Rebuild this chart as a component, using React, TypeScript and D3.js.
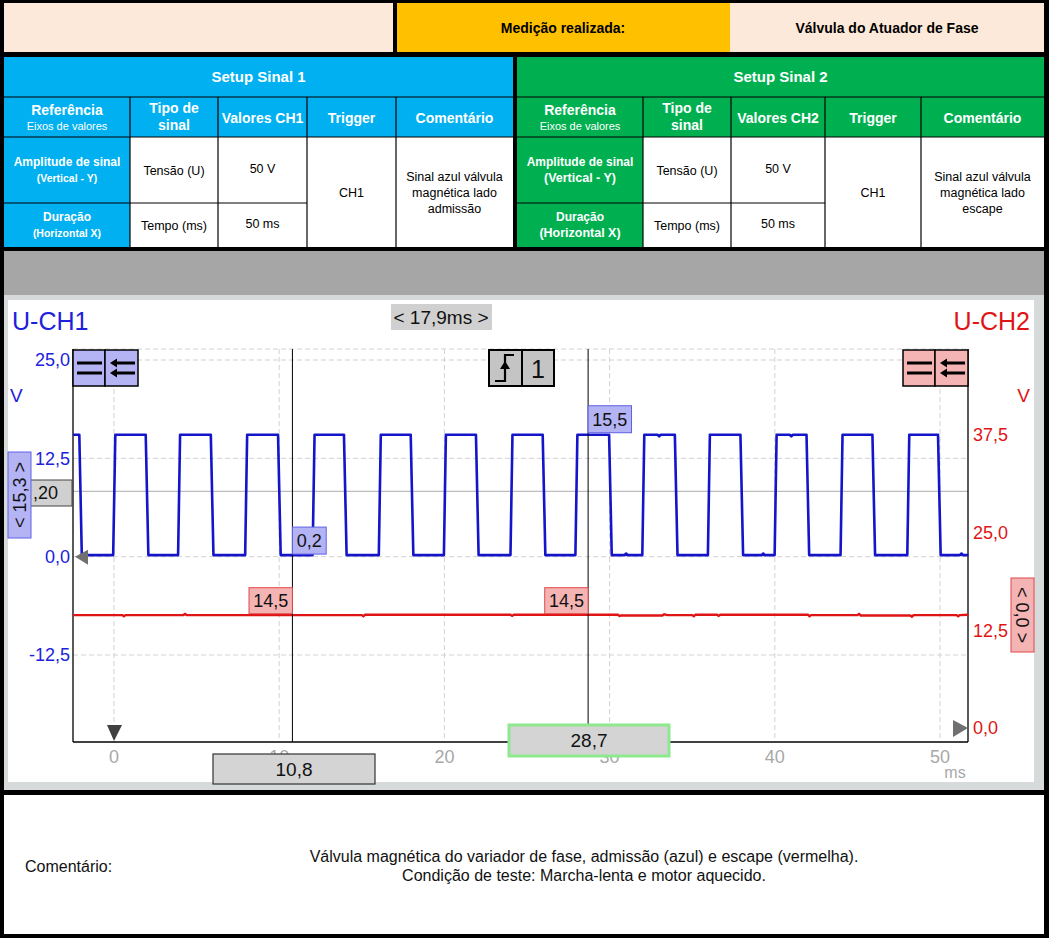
import React from 'react';
import * as d3 from 'd3';

const W = 1049;
const H = 938;
const FONT = "'Liberation Sans', Arial, Helvetica, sans-serif";

// top header
const measureLabel = 'Medição realizada:';
const measureValue = 'Válvula do Atuador de Fase';

// setup tables
const setupTitles = ['Setup Sinal 1', 'Setup Sinal 2'];
const refHeader = ['Referência', 'Eixos de valores'];
const typeHeader = ['Tipo de', 'sinal'];
const valueHeaders = ['Valores CH1', 'Valores CH2'];
const triggerHeader = 'Trigger';
const commentHeader = 'Comentário';
const rowLabels = [
  ['Amplitude de sinal', '(Vertical - Y)'],
  ['Duração', '(Horizontal X)'],
];
const rowTypes = ['Tensão (U)', 'Tempo (ms)'];
const rowValues = ['50 V', '50 ms'];
const triggers = ['CH1', 'CH1'];
const setupComments = [
  ['Sinal azul válvula', 'magnética lado', 'admissão'],
  ['Sinal azul válvula', 'magnética lado', 'escape'],
];

// scope
const xTicks = [0, 10, 20, 30, 40, 50];
const ch1Ticks = [25, 12.5, 0, -12.5];
const ch2Ticks = [37.5, 25, 12.5, 0];
const cursorTimes = [10.8, 28.7];
const cursorDelta = '< 17,9ms >';
const ch1Readings = [0.2, 15.5];
const ch2Readings = [14.5, 14.5];

// blue trace (ms, V)
const ch1Trace: [number, number][] = [
  [-2.48, 15.5], [-2.1, 15.5], [-1.95, 0.2], [-0.05, 0.2], [0.08, 15.5], [1.92, 15.5], [2.08, 0.2],
  [3.88, 0.2], [4.0, 15.5], [5.86, 15.5], [6.02, 0.2], [7.94, 0.2], [8.06, 15.5], [9.93, 15.5],
  [10.09, 0.2], [12.02, 0.2], [12.14, 15.5], [13.92, 15.5], [14.08, 0.2], [16.03, 0.2], [16.15, 15.5],
  [17.96, 15.5], [18.12, 0.2], [19.97, 0.2], [20.09, 15.5], [21.91, 15.5], [22.07, 0.2], [24.0, 0.2],
  [24.12, 15.5], [25.95, 15.5], [26.11, 0.2], [27.93, 0.2], [28.05, 15.5], [29.97, 15.5], [30.13, 0.2],
  [30.9, 0.2], [31.0, 0.4], [31.1, 0.2], [31.98, 0.2], [32.1, 15.5], [32.9, 15.5], [33.0, 15.3], [33.1, 15.5],
  [33.95, 15.5], [34.11, 0.2], [35.95, 0.2], [36.07, 15.5], [37.92, 15.5], [38.08, 0.2], [39.2, 0.2],
  [39.3, 0.4], [39.4, 0.2], [39.99, 0.2], [40.11, 15.5], [40.9, 15.5], [41.0, 15.3], [41.1, 15.5],
  [41.92, 15.5], [42.08, 0.2], [43.98, 0.2], [44.1, 15.5], [45.91, 15.5], [46.07, 0.2], [48.02, 0.2],
  [48.14, 15.5], [49.88, 15.5], [50.04, 0.2], [51.2, 0.2], [51.3, 0.4], [51.4, 0.2], [51.72, 0.2],
];

// red trace (ms, V)
const ch2Trace: [number, number][] = [
  [-2.48, 14.45], [0.5, 14.45], [0.6, 14.3], [0.7, 14.45], [4.2, 14.45], [4.3, 14.6], [4.4, 14.45],
  [15.0, 14.45], [15.1, 14.3], [15.2, 14.5], [24.0, 14.5], [24.1, 14.35], [24.2, 14.5], [30.5, 14.5],
  [30.6, 14.35], [30.7, 14.4], [33.2, 14.4], [33.3, 14.55], [33.5, 14.45], [35.0, 14.45], [35.1, 14.3],
  [35.2, 14.5], [36.5, 14.5], [36.6, 14.35], [36.7, 14.5], [42.0, 14.5], [42.1, 14.3], [42.2, 14.45],
  [45.0, 14.45], [45.1, 14.6], [45.2, 14.4], [48.2, 14.4], [48.3, 14.25], [48.4, 14.45], [51.0, 14.45],
  [51.1, 14.3], [51.2, 14.45], [51.72, 14.5],
];

// bottom comment
const commentLabel = 'Comentário:';
const commentLines = [
  'Válvula magnética do variador de fase, admissão (azul) e escape (vermelha).',
  'Condição de teste: Marcha-lenta e motor aquecido.',
];

const PEACH = '#FDE9D9';
const GOLD = '#FFC000';
const BLUE = '#00B0F0';
const GREEN = '#00B050';
const CH1 = '#1414C8';
const CH1_TXT = '#2020DC';
const CH2 = '#E01414';
const LAV = '#B4B4F4';
const PINK = '#F4B4B4';

const locale = d3.formatLocale({ decimal: ',', thousands: '.', grouping: [3], currency: ['', ''], minus: '-' });
const f1 = locale.format('.1f');

// plot frame
const P = { left: 73, right: 968, top: 349, bottom: 742 };

const x = d3.scaleLinear().domain([0, 50]).range([114, 940]);
const y1 = d3.scaleLinear().domain([-12.5, 25]).range([655, 360]);
const y2 = d3.scaleLinear().domain([0, 37.5]).range([728, 435]);

const line1 = d3.line<[number, number]>().x(d => x(d[0])).y(d => y1(d[1]));
const line2 = d3.line<[number, number]>().x(d => x(d[0])).y(d => y2(d[1]));

const T = (props: any) => <text fontFamily={FONT} {...props} />;

const SetupTable = ({ idx, cols }: { idx: number; cols: number[] }) => {
  const rows = [57, 97, 137, 203, 247];
  const bg = idx === 0 ? BLUE : GREEN;
  const cx = (i: number) => (cols[i] + cols[i + 1]) / 2;
  const subSize = idx === 0 ? 10.5 : 12.5;
  return (
    <g>
      <rect x={cols[0]} y={rows[0]} width={cols[5] - cols[0]} height={rows[4] - rows[0]} fill={bg} />
      {/* white data cells */}
      <rect x={cols[1]} y={rows[2]} width={cols[5] - cols[1]} height={rows[4] - rows[2]} fill="#fff" />
      {/* lines */}
      <g stroke="#000" strokeWidth={1.2}>
        <line x1={cols[0]} x2={cols[5]} y1={rows[1]} y2={rows[1]} />
        <line x1={cols[0]} x2={cols[5]} y1={rows[2]} y2={rows[2]} />
        <line x1={cols[0]} x2={cols[3]} y1={rows[3]} y2={rows[3]} />
        {[1, 2, 3, 4].map(i => (
          <line key={i} x1={cols[i]} x2={cols[i]} y1={rows[1]} y2={rows[4]} />
        ))}
      </g>
      <T x={(cols[0] + cols[5]) / 2} y={rows[0] + 20} dy="0.35em" textAnchor="middle" fill="#fff" fontWeight="bold" fontSize={15}>
        {setupTitles[idx]}
      </T>
      {/* column headers */}
      <T x={cx(0)} y={110} dy="0.35em" textAnchor="middle" fill="#fff" fontWeight="bold" fontSize={14}>{refHeader[0]}</T>
      <T x={cx(0)} y={126} dy="0.35em" textAnchor="middle" fill="#fff" fontSize={11}>{refHeader[1]}</T>
      <T x={cx(1)} y={108} dy="0.35em" textAnchor="middle" fill="#fff" fontWeight="bold" fontSize={14}>{typeHeader[0]}</T>
      <T x={cx(1)} y={125} dy="0.35em" textAnchor="middle" fill="#fff" fontWeight="bold" fontSize={14}>{typeHeader[1]}</T>
      <T x={cx(2)} y={118} dy="0.35em" textAnchor="middle" fill="#fff" fontWeight="bold" fontSize={14}>{valueHeaders[idx]}</T>
      <T x={cx(3)} y={118} dy="0.35em" textAnchor="middle" fill="#fff" fontWeight="bold" fontSize={14}>{triggerHeader}</T>
      <T x={cx(4)} y={118} dy="0.35em" textAnchor="middle" fill="#fff" fontWeight="bold" fontSize={14}>{commentHeader}</T>
      {/* row labels */}
      {rowLabels.map((r, i) => {
        const mid = (rows[2 + i] + rows[3 + i]) / 2;
        return (
          <g key={i}>
            <T x={cx(0)} y={mid - 8} dy="0.35em" textAnchor="middle" fill="#fff" fontWeight="bold" fontSize={12}>{r[0]}</T>
            <T x={cx(0)} y={mid + 8} dy="0.35em" textAnchor="middle" fill="#fff" fontWeight="bold" fontSize={subSize}>{r[1]}</T>
            <T x={cx(1)} y={mid + 1} dy="0.35em" textAnchor="middle" fill="#000" fontSize={12.5}>{rowTypes[i]}</T>
            <T x={cx(2)} y={mid - 1} dy="0.35em" textAnchor="middle" fill="#000" fontSize={12.5}>{rowValues[i]}</T>
          </g>
        );
      })}
      <T x={cx(3)} y={193} dy="0.35em" textAnchor="middle" fill="#000" fontSize={12.5}>{triggers[idx]}</T>
      {setupComments[idx].map((c, i) => (
        <T key={i} x={cx(4)} y={177 + i * 16} dy="0.35em" textAnchor="middle" fill="#000" fontSize={12.5}>{c}</T>
      ))}
    </g>
  );
};

const EqIcon = ({ x0, fill }: { x0: number; fill: string }) => (
  <g>
    <rect x={x0} y={350} width={32} height={36} fill={fill} stroke="#000" strokeWidth={1.5} />
    <rect x={x0 + 32} y={350} width={33} height={36} fill={fill} stroke="#000" strokeWidth={1.5} />
    <g stroke="#000" strokeWidth={3}>
      <line x1={x0 + 4} x2={x0 + 29} y1={363} y2={363} />
      <line x1={x0 + 4} x2={x0 + 29} y1={373} y2={373} />
      <line x1={x0 + 41} x2={x0 + 62} y1={363} y2={363} />
      <line x1={x0 + 41} x2={x0 + 62} y1={373} y2={373} />
    </g>
    <g fill="#000">
      <path d={`M${x0 + 37},363 L${x0 + 44},358.5 L${x0 + 44},367.5 Z`} />
      <path d={`M${x0 + 37},373 L${x0 + 44},368.5 L${x0 + 44},377.5 Z`} />
    </g>
  </g>
);

const App = () => {
  const boxTextW = (s: string) => s.length * 9.6 + 5;

  return (
    <svg width={W} height={H} style={{ position: 'absolute', left: 0, top: 0, display: 'block' }}>
      <rect x={0} y={0} width={W} height={H} fill="#000" />

      {/* top row */}
      <rect x={4} y={3} width={389} height={49} fill={PEACH} />
      <rect x={397} y={3} width={333} height={49} fill={GOLD} />
      <rect x={730} y={3} width={314} height={49} fill={PEACH} />
      <T x={563} y={28} dy="0.35em" textAnchor="middle" fontWeight="bold" fontSize={14} fill="#000">{measureLabel}</T>
      <T x={887} y={28} dy="0.35em" textAnchor="middle" fontWeight="bold" fontSize={14} fill="#000">{measureValue}</T>

      <SetupTable idx={0} cols={[4, 130, 218, 307, 396, 513]} />
      <SetupTable idx={1} cols={[517, 643, 731, 825, 921, 1044]} />

      {/* gray band */}
      <rect x={4} y={251} width={1040} height={44} fill="#A6A6A6" />

      {/* scope panel */}
      <rect x={4} y={295} width={1040} height={495} fill="#D6DADA" />
      <rect x={8} y={300} width={1026} height={482} fill="#fff" />

      <T x={12} y={330} fontSize={25} fill={CH1_TXT}>U-CH1</T>
      <T x={1030} y={330} fontSize={25} fill={CH2} textAnchor="end">U-CH2</T>
      <T x={10} y={402} fontSize={19} fill={CH1_TXT}>V</T>
      <T x={1030} y={402} fontSize={19} fill={CH2} textAnchor="end">V</T>

      {/* grid */}
      <g stroke="#D2D2D2" strokeWidth={1} strokeDasharray="5,3">
        {xTicks.map(t => (
          <line key={t} x1={x(t)} x2={x(t)} y1={P.top} y2={P.bottom} />
        ))}
        {ch1Ticks.map(t => (
          <line key={t} x1={P.left} x2={P.right} y1={y1(t)} y2={y1(t)} />
        ))}
        <line x1={P.left} x2={P.right} y1={P.top} y2={P.top} />
      </g>
      <line x1={P.left} x2={P.right} y1={y1(8.3)} y2={y1(8.3)} stroke="#BDBDBD" strokeWidth={1.2} />

      {/* x tick labels */}
      {xTicks.map(t => (
        <T key={t} x={x(t)} y={763} textAnchor="middle" fontSize={18} fill="#A8A8A8">{t}</T>
      ))}
      <T x={955} y={778} textAnchor="middle" fontSize={16} fill="#A8A8A8">ms</T>

      {/* y tick labels */}
      {ch1Ticks.map(t => (
        <T key={t} x={70} y={y1(t)} dy="0.35em" textAnchor="end" fontSize={18} fill={CH1_TXT}>{f1(t)}</T>
      ))}
      {ch2Ticks.map(t => (
        <T key={t} x={973} y={y2(t)} dy="0.35em" textAnchor="start" fontSize={18} fill={CH2}>{f1(t)}</T>
      ))}

      {/* plot frame */}
      <g stroke="#000" strokeWidth={1.3} fill="none">
        <line x1={P.left} x2={P.left} y1={P.top} y2={P.bottom} />
        <line x1={P.right} x2={P.right} y1={P.top} y2={P.bottom} />
        <line x1={P.left} x2={P.right} y1={P.bottom} y2={P.bottom} />
      </g>

      {/* traces */}
      <path d={line2(ch2Trace) ?? ''} fill="none" stroke={CH2} strokeWidth={2.4} />
      <path d={line1(ch1Trace) ?? ''} fill="none" stroke={CH1} strokeWidth={2.6} strokeLinejoin="round" />

      {/* cursors */}
      {cursorTimes.map(t => (
        <line key={t} x1={x(t)} x2={x(t)} y1={P.top} y2={P.bottom} stroke="#000" strokeWidth={1} />
      ))}

      {/* ch1 cursor readings: box above right of point */}
      {cursorTimes.map((t, i) => {
        const s = f1(ch1Readings[i]);
        const w = boxTextW(s);
        const cx = x(t);
        const cy = i === 0 ? y1(ch1Readings[i]) : y1(ch1Readings[i]) - 1;
        return (
          <g key={'c1' + i}>
            <rect x={cx} y={cy - 28} width={w} height={27} fill={LAV} stroke="#6060E8" strokeWidth={1} />
            <T x={cx + w / 2} y={cy - 14} dy="0.35em" textAnchor="middle" fontSize={18} fill="#111">{s}</T>
          </g>
        );
      })}
      {/* ch2 cursor readings: box above left of point */}
      {cursorTimes.map((t, i) => {
        const s = f1(ch2Readings[i]);
        const w = boxTextW(s);
        const cx = x(t);
        const cy = y2(ch2Readings[i]);
        return (
          <g key={'c2' + i}>
            <rect x={cx - w} y={cy - 27} width={w} height={26} fill={PINK} stroke="#E04848" strokeWidth={1} />
            <T x={cx - w / 2} y={cy - 14} dy="0.35em" textAnchor="middle" fontSize={18} fill="#111">{s}</T>
          </g>
        );
      })}

      {/* icons */}
      <EqIcon x0={73} fill={LAV} />
      <EqIcon x0={903} fill={PINK} />
      <rect x={489} y={350} width={33} height={36} fill="#C4C4C4" stroke="#000" strokeWidth={2} />
      <rect x={522} y={350} width={32} height={36} fill="#C4C4C4" stroke="#000" strokeWidth={2} />
      <path d="M495,381 H505 V355 H514" fill="none" stroke="#000" strokeWidth={2.2} />
      <path d="M500,369 L505,361 L510,369 Z" fill="#000" />
      <T x={538} y={369} dy="0.35em" textAnchor="middle" fontSize={25} fill="#111">1</T>

      {/* delta box */}
      <rect x={391} y={304} width={101} height={26} fill="#D0D0D0" />
      <T x={441} y={317} dy="0.35em" textAnchor="middle" fontSize={19} fill="#111">{cursorDelta}</T>

      {/* markers */}
      <path d={`M${P.left + 2},${y1(0)} L${P.left + 15},${y1(0) - 7} L${P.left + 15},${y1(0) + 8} Z`} fill="#707070" />
      <path d={`M${x(0) - 7},${P.bottom - 17} L${x(0) + 8},${P.bottom - 17} L${x(0)},${P.bottom - 1} Z`} fill="#404040" />
      <path d={`M${P.right - 15},${y2(0) - 8} L${P.right - 15},${y2(0) + 9} L${P.right},${y2(0)} Z`} fill="#707070" />

      {/* left side offset boxes */}
      <rect x={20} y={480} width={52} height={26} fill="#D0D0D0" stroke="#444" strokeWidth={1} />
      <T x={33} y={493} dy="0.35em" fontSize={18} fill="#111">,20</T>
      <rect x={8} y={452} width={23} height={86} fill={LAV} stroke="#6060E8" strokeWidth={1} />
      <T x={0} y={0} transform="translate(20,495) rotate(-90)" dy="0.35em" textAnchor="middle" fontSize={18} fill="#111">{'< 15,3 >'}</T>
      <rect x={1011} y={578} width={23} height={74} fill={PINK} stroke="#E04848" strokeWidth={1} />
      <T x={0} y={0} transform="translate(1022,615) rotate(90)" dy="0.35em" textAnchor="middle" fontSize={18} fill="#111">{'< 0,0 >'}</T>

      {/* cursor time boxes */}
      <rect x={213} y={754} width={162} height={30} fill="#D4D4D4" stroke="#333" strokeWidth={1.2} />
      <T x={294} y={769} dy="0.35em" textAnchor="middle" fontSize={19} fill="#111">{f1(cursorTimes[0])}</T>
      <rect x={509} y={725} width={160} height={31} fill="#D4D4D4" stroke="#8EE88E" strokeWidth={3} />
      <T x={589} y={740} dy="0.35em" textAnchor="middle" fontSize={19} fill="#111">{f1(cursorTimes[1])}</T>

      {/* comment box */}
      <rect x={4} y={795} width={1040} height={139} fill="#fff" />
      <T x={25} y={866} dy="0.35em" fontSize={16} fill="#111">{commentLabel}</T>
      {commentLines.map((l, i) => (
        <T key={i} x={584} y={856 + i * 19} dy="0.35em" textAnchor="middle" fontSize={16} fill="#111">{l}</T>
      ))}
    </svg>
  );
};

export default App;
